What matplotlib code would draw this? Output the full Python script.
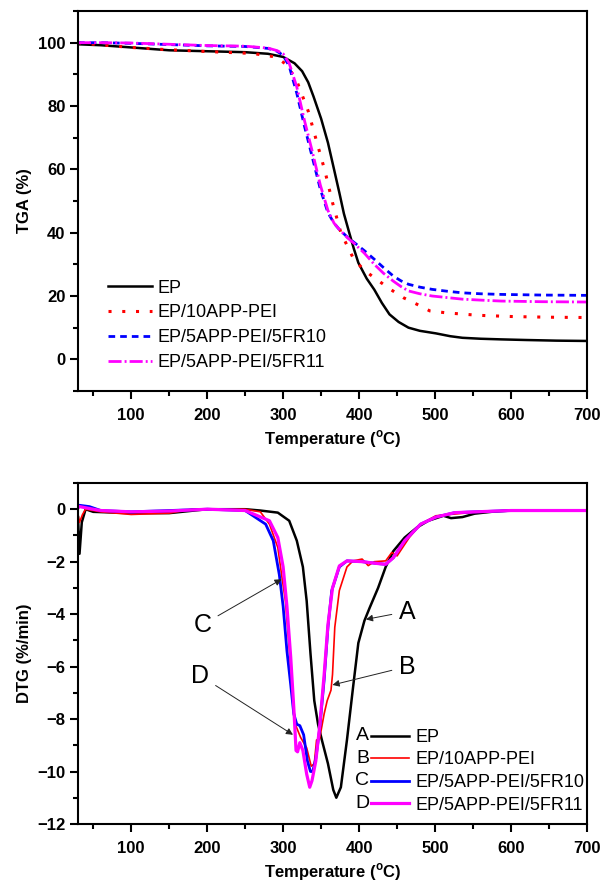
import matplotlib
matplotlib.use('Agg')
import matplotlib.pyplot as plt
from matplotlib.ticker import MultipleLocator

plt.rcParams['font.family'] = ['Liberation Sans', 'DejaVu Sans']
plt.rcParams['mathtext.fontset'] = 'custom'
plt.rcParams['mathtext.rm'] = 'Liberation Sans'
plt.rcParams['mathtext.bf'] = 'Liberation Sans:bold'

# TGA curves
ep_tga_x = [30, 60, 100, 150, 200, 250, 280, 300, 315, 325, 333, 340, 350, 359, 367, 374, 380, 387,
            393, 399, 410, 420, 430, 440, 452, 465, 480, 501, 520, 536, 560, 587, 620, 660, 700]
ep_tga_y = [99.5, 99.2, 98.5, 97.6, 97.3, 97.0, 96.5, 95.5, 93.5, 91.0, 87.5, 83.0, 76.0, 68.4, 60.0,
            52.6, 46.0, 40.0, 35.0, 30.5, 25.5, 22.0, 17.8, 14.2, 11.8, 10.0, 9.0, 8.2, 7.3, 6.8, 6.5,
            6.3, 6.1, 5.9, 5.8]

app_tga_x = [30, 60, 100, 140, 200, 260, 290, 305, 318, 333, 344, 355, 365, 376, 392, 405, 417, 440,
             458, 476, 493, 514, 557, 603, 650, 700]
app_tga_y = [100, 99.3, 98.5, 97.9, 97.2, 96.6, 95.5, 93.0, 87.9, 78.4, 68.9, 59.5, 49.5, 40.0, 32.1,
             28.5, 26.3, 22.3, 19.5, 17.4, 15.3, 14.7, 13.9, 13.5, 13.3, 13.2]

fr10_tga_x = [30, 60, 100, 150, 200, 250, 280, 292, 300, 308, 318, 328, 338, 349, 359, 367, 374, 385,
              394, 407, 420, 432, 445, 455, 465, 480, 496, 516, 536, 560, 587, 640, 700]
fr10_tga_y = [100, 100, 99.8, 99.4, 99.0, 98.8, 98.2, 97.3, 96.0, 92.6, 84.0, 73.7, 64.2, 53.7, 46.3,
              43.0, 41.0, 38.5, 36.8, 34.3, 31.6, 29.0, 26.3, 24.8, 23.7, 22.8, 22.1, 21.5, 21.0, 20.7,
              20.5, 20.3, 20.2]

fr11_tga_x = [30, 60, 100, 150, 200, 250, 280, 292, 300, 308, 318, 328, 338, 349, 359, 367, 374, 385,
              394, 407, 420, 432, 445, 455, 465, 480, 496, 516, 536, 560, 587, 640, 700]
fr11_tga_y = [100, 100, 99.9, 99.5, 99.1, 98.9, 98.3, 97.5, 96.5, 93.5, 86.0, 75.5, 66.0, 55.0, 47.0,
              43.0, 41.0, 38.3, 36.5, 33.5, 30.0, 27.2, 24.7, 23.0, 21.6, 20.7, 20.0, 19.5, 19.0, 18.7,
              18.4, 18.2, 18.1]

# DTG curves
ep_dtg_x = [30, 32, 35, 40, 50, 100, 150, 200, 250, 270, 293, 308, 318, 326, 331, 336, 341, 346, 351,
            359, 366, 370, 376, 384, 392, 399, 407, 414, 425, 435, 445, 460, 476, 491, 511, 521, 536,
            552, 577, 600, 650, 700]
ep_dtg_y = [-0.3, -1.7, -0.5, 0.0, -0.1, -0.15, -0.15, 0.0, 0.0, -0.05, -0.13, -0.44, -1.2, -2.2, -3.5,
            -5.5, -7.3, -8.2, -8.8, -9.7, -10.7, -11.0, -10.6, -8.8, -6.8, -5.1, -4.25, -3.75, -3.0,
            -2.2, -1.6, -1.08, -0.7, -0.44, -0.25, -0.34, -0.3, -0.17, -0.09, -0.05, -0.05, -0.05]

app_dtg_x = [30, 32, 36, 40, 60, 100, 150, 180, 250, 270, 282, 293, 298, 303, 308, 313, 316, 323, 331,
             337, 341, 344, 348, 354, 358, 363, 365, 368, 374, 384, 392, 404, 412, 420, 435, 443, 450,
             466, 481, 501, 550, 600, 700]
app_dtg_y = [-0.2, -0.5, -0.2, 0.0, -0.1, -0.2, -0.15, 0.0, 0.0, -0.1, -0.57, -1.46, -2.5, -3.5, -5.3,
             -7.3, -8.2, -8.7, -9.1, -9.8, -9.7, -8.8, -8.75, -7.8, -7.3, -6.9, -6.3, -4.5, -3.1, -2.2,
             -1.97, -1.9, -2.15, -2.0, -1.97, -1.65, -1.78, -1.08, -0.57, -0.25, -0.12, -0.05, -0.05]

fr10_dtg_x = [30, 32, 45, 60, 100, 150, 200, 250, 277, 287, 295, 300, 305, 310, 314, 318, 322, 327,
              332, 336, 339, 343, 348, 354, 359, 364, 374, 384, 404, 424, 435, 445, 460, 481, 501, 526,
              600, 700]
fr10_dtg_y = [0.1, 0.15, 0.1, -0.05, -0.1, -0.05, 0.0, -0.05, -0.57, -1.2, -2.5, -3.7, -5.4, -6.7, -7.8,
              -8.2, -8.25, -8.6, -9.6, -10.0, -10.0, -9.5, -8.4, -6.5, -4.5, -3.1, -2.2, -1.97, -2.0,
              -2.07, -2.1, -1.85, -1.2, -0.57, -0.3, -0.13, -0.05, -0.05]

fr11_dtg_x = [30, 32, 50, 60, 100, 150, 200, 250, 282, 293, 300, 305, 310, 314, 317, 319, 322, 326,
              331, 335, 338, 343, 348, 354, 359, 365, 374, 384, 404, 424, 435, 445, 460, 481, 501, 526,
              600, 700]
fr11_dtg_y = [0.05, 0.1, 0.0, -0.05, -0.1, -0.07, 0.0, -0.05, -0.44, -1.08, -2.2, -3.7, -5.65, -7.55,
              -9.2, -9.25, -8.9, -9.2, -10.1, -10.6, -10.35, -9.6, -8.3, -6.3, -4.4, -3.0, -2.16, -1.97,
              -2.0, -2.07, -2.1, -1.85, -1.2, -0.57, -0.3, -0.13, -0.05, -0.05]

labels = ['EP', 'EP/10APP-PEI', 'EP/5APP-PEI/5FR10', 'EP/5APP-PEI/5FR11']
letters = ['A', 'B', 'C', 'D']

fig = plt.figure(figsize=(6.06, 8.82), dpi=100)
ax1 = fig.add_axes([0.1287, 0.5567, 0.840, 0.4308])
ax2 = fig.add_axes([0.1287, 0.0658, 0.840, 0.3866])

# --- TGA ---
ax1.plot(ep_tga_x, ep_tga_y, color='black', lw=1.8, label=labels[0])
ax1.plot(app_tga_x, app_tga_y, color='red', lw=2.2, ls=(0, (1, 3.5)), label=labels[1])
ax1.plot(fr10_tga_x, fr10_tga_y, color='blue', lw=2.0, ls=(0, (2.4, 1.8)), label=labels[2])
ax1.plot(fr11_tga_x, fr11_tga_y, color='magenta', lw=2.0, ls=(0, (4.7, 1.1, 0.7, 1.1)), label=labels[3])
ax1.set_xlim(30, 700)
ax1.set_ylim(-10, 110)
ax1.yaxis.set_major_locator(MultipleLocator(20))
ax1.yaxis.set_minor_locator(MultipleLocator(10))
ax1.set_ylabel('TGA (%)', fontsize=12, fontweight='bold', labelpad=4)
ax1.set_xlabel(r'Temperature ($^{\mathbf{o}}$C)', fontsize=12, fontweight='bold', labelpad=4)
ax1.legend(loc='lower left', bbox_to_anchor=(0.045, 0.034), frameon=False, fontsize=13,
           handlelength=2.45, handletextpad=0.3, labelspacing=0.43, borderaxespad=0)

# --- DTG ---
ax2.plot(ep_dtg_x, ep_dtg_y, color='black', lw=1.8, label=labels[0])
ax2.plot(app_dtg_x, app_dtg_y, color='red', lw=1.2, label=labels[1])
ax2.plot(fr10_dtg_x, fr10_dtg_y, color='blue', lw=2.0, label=labels[2])
ax2.plot(fr11_dtg_x, fr11_dtg_y, color='magenta', lw=2.3, label=labels[3])
ax2.set_xlim(30, 700)
ax2.set_ylim(-12, 1)
ax2.yaxis.set_major_locator(MultipleLocator(2))
ax2.yaxis.set_minor_locator(MultipleLocator(1))
ax2.set_ylabel('DTG (%/min)', fontsize=12, fontweight='bold', labelpad=4)
ax2.set_xlabel(r'Temperature ($^{\mathbf{o}}$C)', fontsize=12, fontweight='bold', labelpad=4)
leg2 = ax2.legend(loc='lower left', bbox_to_anchor=(0.562, 0.009), frameon=False, fontsize=13,
                  handlelength=2.1, handletextpad=0.33, labelspacing=0.31, borderaxespad=0)

arrow = dict(arrowstyle='-|>', color='#222222', lw=0.7, mutation_scale=10, shrinkA=3, shrinkB=0)
ax2.annotate('A', xy=(409, -4.2), xytext=(463, -3.9), fontsize=18, ha='center', va='center', arrowprops=arrow)
ax2.annotate('B', xy=(365, -6.7), xytext=(463, -6.0), fontsize=18, ha='center', va='center', arrowprops=arrow)
ax2.annotate('C', xy=(298, -2.67), xytext=(194, -4.4), fontsize=18, ha='center', va='center', arrowprops=arrow)
ax2.annotate('D', xy=(313, -8.6), xytext=(191, -6.35), fontsize=18, ha='center', va='center', arrowprops=arrow)

for ax in (ax1, ax2):
    ax.xaxis.set_major_locator(MultipleLocator(100))
    ax.xaxis.set_minor_locator(MultipleLocator(50))
    ax.tick_params(which='major', direction='out', length=6, width=1.5, labelsize=12, pad=3)
    ax.tick_params(axis='x', which='major', pad=6)
    ax.tick_params(which='minor', direction='out', length=3.5, width=1.5)
    ax.tick_params(top=False, right=False, which='both')
    for s in ax.spines.values():
        s.set_linewidth(1.5)
    for t in ax.get_xticklabels() + ax.get_yticklabels():
        t.set_fontweight('bold')

# letters in front of the DTG legend lines
fig.canvas.draw()
inv = ax2.transAxes.inverted()
for line, letter in zip(leg2.get_lines(), letters):
    bb = line.get_window_extent()
    x0, y0 = inv.transform((bb.x0, (bb.y0 + bb.y1) / 2))
    ax2.text(x0 - 0.004, y0, letter, transform=ax2.transAxes, fontsize=14, ha='right', va='center')

fig.savefig('out.png', dpi=100)
